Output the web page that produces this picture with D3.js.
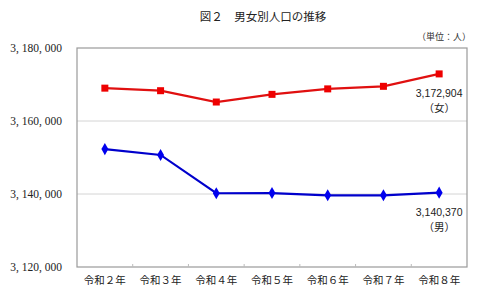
<!DOCTYPE html>
<html><head><meta charset="utf-8">
<script src="https://cdn.jsdelivr.net/npm/d3@7"></script>
<style>body{margin:0;background:#fff}svg{display:block}</style>
</head><body><svg id="c" width="480" height="293"></svg>
<script>
const categories = ["令和２年","令和３年","令和４年","令和５年","令和６年","令和７年","令和８年"];
const female = [3169000, 3168300, 3165200, 3167300, 3168800, 3169500, 3172904];
const male = [3152300, 3150700, 3140200, 3140250, 3139650, 3139650, 3140370];
const yTicks = [3120000, 3140000, 3160000, 3180000];
const yTickLabels = ["3, 120, 000","3, 140, 000","3, 160, 000","3, 180, 000"];
const title = "図２　男女別人口の推移";
const unit = "（単位：人）";

const svg = d3.select("#c");
const L = 77, R = 467, T = 48, B = 267;
const x = d3.scaleBand().domain(categories).range([L, R]);
const y = d3.scaleLinear().domain([3120000, 3180000]).range([B, T]);
const serif = "'Liberation Serif','Noto Sans CJK JP',serif";
const jp = "'Noto Sans CJK JP',sans-serif";

svg.append("text").attr("x", 263).attr("y", 21).attr("text-anchor","middle")
  .attr("font-family", jp).attr("font-size", 11.5).attr("fill","#222").text(title);
svg.append("text").attr("x", 471).attr("y", 40).attr("text-anchor","end")
  .attr("font-family", jp).attr("font-size", 9).attr("fill","#333").text(unit);

// gridlines
svg.append("g").selectAll("line").data(yTicks.slice(1, -1)).join("line")
  .attr("x1", L).attr("x2", R).attr("y1", d => y(d)).attr("y2", d => y(d))
  .attr("stroke", "#d4d4d4").attr("stroke-width", 1);

// frame
svg.append("rect").attr("x", L).attr("y", T).attr("width", R - L).attr("height", B - T)
  .attr("fill","none").attr("stroke","#9a9a9a").attr("stroke-width",1.2);

// y axis labels
const yAxis = d3.axisLeft(y).tickValues(yTicks).tickSize(0).tickPadding(0)
  .tickFormat((d, i) => yTickLabels[i]);
const yg = svg.append("g").attr("transform", `translate(${L-15},0)`).call(yAxis);
yg.select(".domain").remove();
yg.selectAll("text").attr("font-family", serif).attr("font-size", 11.5).attr("fill","#222");

// x axis
const xAxis = d3.axisBottom(x).tickSize(0).tickPadding(10);
const xg = svg.append("g").attr("transform", `translate(0,${B})`).call(xAxis);
xg.select(".domain").remove();
xg.selectAll("text").attr("font-family", jp).attr("font-size", 10.5).attr("fill","#222");
// tick marks at band boundaries
svg.append("g").selectAll("line").data(categories.slice(1)).join("line")
  .attr("x1", d => x(d)).attr("x2", d => x(d)).attr("y1", B).attr("y2", B - 3)
  .attr("stroke","#bbb");

const cx = d => x(d) + x.bandwidth() / 2;
const line = d3.line().x((d, i) => cx(categories[i])).y(d => y(d));

svg.append("path").datum(female).attr("d", line).attr("fill","none")
  .attr("stroke","#e01010").attr("stroke-width",2.2);
svg.append("g").selectAll("rect").data(female).join("rect")
  .attr("x", (d, i) => cx(categories[i]) - 3.5).attr("y", d => y(d) - 3.5)
  .attr("width", 7).attr("height", 7).attr("fill","#ee0000");

svg.append("path").datum(male).attr("d", line).attr("fill","none")
  .attr("stroke","#0000cc").attr("stroke-width",2.2);
svg.append("g").selectAll("path.m").data(male).join("path").attr("class","m")
  .attr("d", d3.symbol().type(d3.symbolDiamond).size(42))
  .attr("transform", (d, i) => `translate(${cx(categories[i])},${y(d)})`)
  .attr("fill","#0000ee");

const lastX = cx(categories[categories.length - 1]);
const fmt = d3.format(",");
const lab = svg.append("g").attr("font-family","'Liberation Sans',Arial,sans-serif")
  .attr("font-size", 10.5).attr("fill","#222").attr("text-anchor","middle");
lab.append("text").attr("x", lastX).attr("y", y(female[6]) + 23).text(fmt(female[6]));
lab.append("text").attr("x", lastX).attr("y", y(female[6]) + 38).attr("font-family", jp).text("（女）");
lab.append("text").attr("x", lastX).attr("y", y(male[6]) + 23).text(fmt(male[6]));
lab.append("text").attr("x", lastX).attr("y", y(male[6]) + 38).attr("font-family", jp).text("（男）");
</script></body></html>
